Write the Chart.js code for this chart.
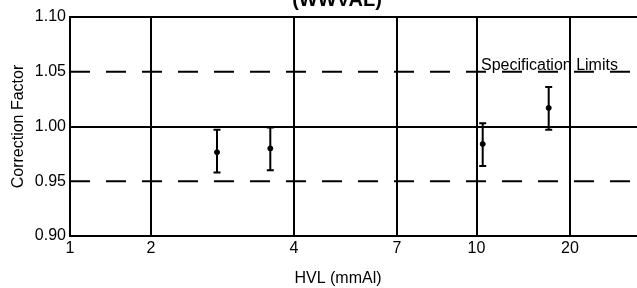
<!DOCTYPE html>
<html>
<head>
<meta charset="utf-8">
<script src="https://cdn.jsdelivr.net/npm/chart.js@4/dist/chart.umd.min.js"></script>
<style>
  body { margin: 0; background: #fff; }
  canvas { display: block; }
</style>
</head>
<body>
<canvas id="cf-chart" width="637" height="288"></canvas>
<script>
// x axis is not a real log/linear scale in the source, so positions are kept as axis units
const hvlTickPos = [0, 81, 224, 327, 406.5, 500];
const hvlTickLabels = ["1", "2", "4", "7", "10", "20"];
const xMax = 567;

// measured points with error bars
const pointX = [147, 200.3, 412.7, 478.7];
const meanCF = [0.9765, 0.980, 0.984, 1.017];
const lowerCF = [0.958, 0.960, 0.964, 0.997];
const upperCF = [0.997, 0.999, 1.003, 1.036];

const upperSpec = 1.05;
const lowerSpec = 0.95;

const FONT = "'Liberation Sans', Arial, sans-serif";

const points = pointX.map((x, i) => ({ x: x, y: meanCF[i] }));

const errorBars = {
  id: "errorBars",
  afterDatasetsDraw(chart) {
    const { ctx, scales } = chart;
    ctx.save();
    ctx.strokeStyle = "#000";
    ctx.lineWidth = 2;
    for (let i = 0; i < pointX.length; i++) {
      const px = scales.x.getPixelForValue(pointX[i]);
      const top = scales.y.getPixelForValue(upperCF[i]);
      const bot = scales.y.getPixelForValue(lowerCF[i]);
      ctx.beginPath();
      ctx.moveTo(px, top);
      ctx.lineTo(px, bot);
      ctx.moveTo(px - 3.5, top);
      ctx.lineTo(px + 3.5, top);
      ctx.moveTo(px - 3.5, bot);
      ctx.lineTo(px + 3.5, bot);
      ctx.stroke();
    }
    ctx.restore();
  },
};

const extraText = {
  id: "extraText",
  afterDraw(chart) {
    const { ctx } = chart;
    ctx.save();
    ctx.fillStyle = "#000";
    ctx.textAlign = "center";
    ctx.textBaseline = "alphabetic";
    ctx.font = "bold 20px " + FONT;
    ctx.fillText("(WWVAL)", 337, 6);
    ctx.font = "16px " + FONT;
    ctx.fillText("HVL (mmAl)", 338, 283);
    ctx.textAlign = "left";
    ctx.fillText("Specification Limits", 481, 70);
    ctx.restore();
  },
};

const isNear = (a, b) => Math.abs(a - b) < 1e-6;

new Chart(document.getElementById("cf-chart"), {
  type: "scatter",
  data: {
    datasets: [
      {
        type: "line",
        data: [{ x: 0, y: upperSpec }, { x: xMax, y: upperSpec }],
        borderColor: "#000",
        borderWidth: 2,
        borderDash: [20, 16],
        pointRadius: 0,
      },
      {
        type: "line",
        data: [{ x: 0, y: lowerSpec }, { x: xMax, y: lowerSpec }],
        borderColor: "#000",
        borderWidth: 2,
        borderDash: [20, 16],
        pointRadius: 0,
      },
      {
        data: points,
        backgroundColor: "#000",
        borderColor: "#000",
        pointRadius: 2.5,
      },
    ],
  },
  options: {
    responsive: false,
    animation: false,
    layout: { autoPadding: false, padding: { top: 17, left: 0, right: 0, bottom: 0 } },
    plugins: {
      legend: { display: false },
      tooltip: { enabled: false },
    },
    scales: {
      x: {
        type: "linear",
        min: 0,
        max: xMax,
        afterBuildTicks(scale) {
          scale.ticks = hvlTickPos.map((v) => ({ value: v }));
        },
        afterFit(scale) {
          scale.height = 52;
          scale.paddingRight = 0;
        },
        ticks: {
          autoSkip: false,
          maxRotation: 0,
          padding: 3,
          color: "#000",
          font: { family: FONT, size: 16 },
          callback: (value) => {
            const idx = hvlTickPos.findIndex((p) => isNear(p, value));
            return idx >= 0 ? hvlTickLabels[idx] : "";
          },
        },
        grid: { color: "#000", lineWidth: 2, drawTicks: false },
        border: { color: "#000", width: 2 },
      },
      y: {
        min: 0.9,
        max: 1.1,
        afterFit(scale) {
          scale.width = 70;
        },
        ticks: {
          stepSize: 0.05,
          padding: 4,
          color: "#000",
          font: { family: FONT, size: 16 },
          callback: (value) => Number(value).toFixed(2),
        },
        grid: {
          lineWidth: 2,
          drawTicks: false,
          color: (c) =>
            c.tick && (isNear(c.tick.value, 0.95) || isNear(c.tick.value, 1.05))
              ? "rgba(0,0,0,0)"
              : "#000",
        },
        border: { color: "#000", width: 2 },
        title: {
          display: true,
          text: "Correction Factor",
          color: "#000",
          font: { family: FONT, size: 16 },
          padding: { top: 9 },
        },
      },
    },
  },
  plugins: [errorBars, extraText],
});
</script>
</body>
</html>
